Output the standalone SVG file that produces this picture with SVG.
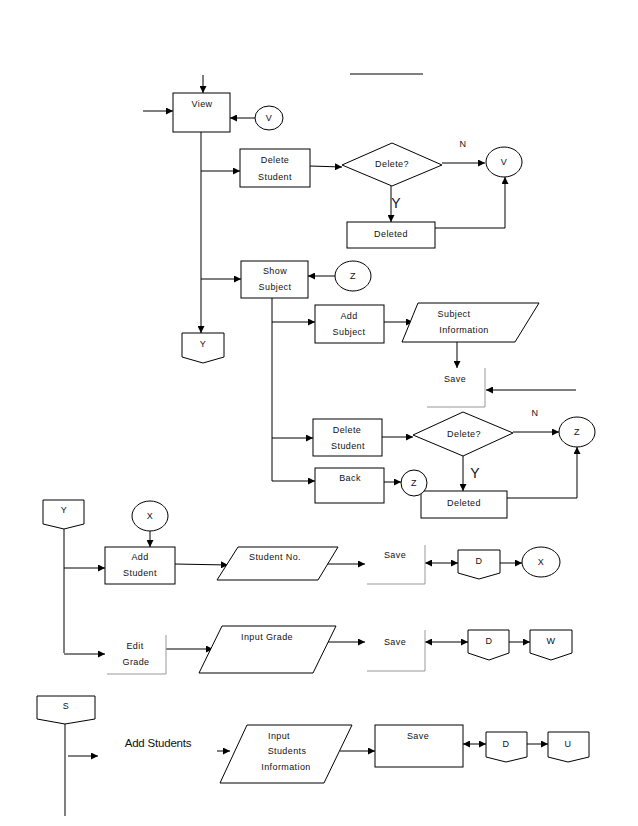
<svg xmlns="http://www.w3.org/2000/svg" width="638" height="826" viewBox="0 0 638 826">
<defs>
<marker id="ah" viewBox="0 0 10 10" refX="10" refY="5" markerWidth="7" markerHeight="7" markerUnits="userSpaceOnUse" orient="auto-start-reverse">
<path d="M0,0 L10,5 L0,10 z" fill="#000"/>
</marker>
<style>
.b{fill:#fff;stroke:#000;stroke-width:1}
.o{fill:none;stroke:#999;stroke-width:1}
.l{fill:none;stroke:#000;stroke-width:1}
.a{fill:none;stroke:#000;stroke-width:1;marker-end:url(#ah)}
.d{fill:none;stroke:#000;stroke-width:1;marker-end:url(#ah);marker-start:url(#ah)}
text{font-family:"Liberation Sans",Arial,sans-serif;font-size:9px;letter-spacing:0.4px;fill:#111;text-anchor:middle;dominant-baseline:middle}
.big{font-size:14px;letter-spacing:0}
.m{font-size:11.5px;letter-spacing:-0.2px}
</style>
</defs>
<rect width="638" height="826" fill="#fff"/>
<line x1="350" y1="74" x2="423" y2="74" class="l"/>

<g id="connectors">
<path d="M203,75 V93" class="a"/>
<path d="M143,111 H173" class="a"/>
<path d="M255,118 H230" class="a"/>
<path d="M201,132 V333" class="a"/>
<path d="M201,171 H240" class="a"/>
<path d="M310,166 L342,167" class="a"/>
<path d="M442,163 H485" class="a"/>
<path d="M391,186 V222" class="a"/>
<path d="M434,228 H505 V177" class="a"/>
<path d="M201,279 H241" class="a"/>
<path d="M335,276 H308" class="a"/>
<path d="M272,298 V481 H315" class="a"/>
<path d="M272,322 H315" class="a"/>
<path d="M384,322 H413" class="a"/>
<path d="M457,342 V368" class="a"/>
<path d="M576,390 H486" class="a"/>
<path d="M272,438 H313" class="a"/>
<path d="M382,437 H413" class="a"/>
<path d="M513,432 H559" class="a"/>
<path d="M463,456 V491" class="a"/>
<path d="M507,498 H577 V447" class="a"/>
<path d="M384,482 H401" class="a"/>
<path d="M64,529 V653" class="l"/>
<path d="M64,568 H105" class="a"/>
<path d="M150,531 V547" class="a"/>
<path d="M175,564 L228,565" class="a"/>
<path d="M322,564 H365" class="a"/>
<path d="M425,563 H458" class="d"/>
<path d="M500,563 H522" class="a"/>
<path d="M64,654 H105" class="a"/>
<path d="M166,649 H213" class="a"/>
<path d="M326,642 H365" class="a"/>
<path d="M425,642 H468" class="d"/>
<path d="M509,642 H530" class="a"/>
<path d="M65,724 V816" class="l"/>
<path d="M68,756 H98" class="a"/>
<path d="M217,751 H230" class="a"/>
<path d="M340,751 H375" class="a"/>
<path d="M463,744 H486" class="d"/>
<path d="M527,744 H548" class="a"/>
</g>

<g id="view"><rect x="173" y="93" width="57" height="39" class="b"/><text x="202" y="105">View</text></g>
<g id="v1"><ellipse cx="269" cy="118" rx="14" ry="12" class="b"/><text x="269" y="119">V</text></g>
<g id="delete-student-1"><rect x="240" y="149" width="70" height="38" class="b"/><text x="275" y="161">Delete</text><text x="275" y="178">Student</text></g>
<g id="delete-q-1"><polygon points="342,165 392,143 442,165 392,186" class="b"/><text x="392" y="165">Delete?</text></g>
<g id="v2"><ellipse cx="504" cy="162" rx="18" ry="15" class="b"/><text x="504" y="163">V</text></g>
<text x="463" y="145">N</text>
<text x="396" y="204" class="big">Y</text>
<g id="deleted-1"><rect x="347" y="222" width="88" height="26" class="b"/><text x="391" y="235">Deleted</text></g>
<g id="show-subject"><rect x="241" y="261" width="67" height="37" class="b"/><text x="275" y="272">Show</text><text x="275" y="288">Subject</text></g>
<g id="z1"><ellipse cx="353" cy="276" rx="18" ry="15" class="b"/><text x="353" y="277">Z</text></g>
<g id="y-off-1"><polygon points="182,333 224,333 224,357 203,363 182,357" class="b"/><text x="203" y="345">Y</text></g>
<g id="add-subject"><rect x="315" y="305" width="69" height="38" class="b"/><text x="349" y="317">Add</text><text x="349" y="333">Subject</text></g>
<g id="subject-info"><polygon points="418,303 539,303 515,342 402,342" class="b"/><text x="454" y="315">Subject</text><text x="464" y="331">Information</text></g>
<g id="save-1"><path d="M485,368 V407 H427" class="o"/><text x="455" y="380">Save</text></g>
<g id="delete-student-2"><rect x="313" y="419" width="69" height="37" class="b"/><text x="347" y="431">Delete</text><text x="348" y="447">Student</text></g>
<g id="delete-q-2"><polygon points="413,435 463,412 513,433 463,456" class="b"/><text x="464" y="435">Delete?</text></g>
<g id="z2"><ellipse cx="577" cy="432" rx="18" ry="15" class="b"/><text x="577" y="433">Z</text></g>
<text x="535" y="414">N</text>
<text x="475" y="474" class="big">Y</text>
<g id="deleted-2"><rect x="421" y="491" width="86" height="27" class="b"/><text x="464" y="504">Deleted</text></g>
<g id="back"><rect x="315" y="468" width="69" height="35" class="b"/><text x="350" y="479">Back</text></g>
<g id="z3"><ellipse cx="414" cy="483" rx="13" ry="13" class="b"/><text x="414" y="484">Z</text></g>

<g id="y-off-2"><polygon points="43,500 84,500 84,524 64,529 43,524" class="b"/><text x="64" y="511">Y</text></g>
<g id="x1"><ellipse cx="150" cy="516" rx="18" ry="15" class="b"/><text x="150" y="517">X</text></g>
<g id="add-student"><rect x="105" y="547" width="70" height="37" class="b"/><text x="140" y="558">Add</text><text x="140" y="574">Student</text></g>
<g id="student-no"><polygon points="238,547 338,547 318,580 217,580" class="b"/><text x="275" y="558">Student No.</text></g>
<g id="save-2"><path d="M425,545 V584 H367" class="o"/><text x="395" y="556">Save</text></g>
<g id="d1"><polygon points="458,550 500,550 500,573 479,579 458,573" class="b"/><text x="479" y="562">D</text></g>
<g id="x2"><ellipse cx="541" cy="562" rx="19" ry="15" class="b"/><text x="541" y="563">X</text></g>
<g id="edit-grade"><path d="M166,635 V674 H107" class="o"/><text x="135" y="647">Edit</text><text x="136" y="663">Grade</text></g>
<g id="input-grade"><polygon points="222,626 336,626 313,673 199,673" class="b"/><text x="267" y="638">Input Grade</text></g>
<g id="save-3"><path d="M425,630 V671 H367" class="o"/><text x="395" y="643">Save</text></g>
<g id="d2"><polygon points="468,630 509,630 509,653 489,660 468,653" class="b"/><text x="489" y="642">D</text></g>
<g id="w"><polygon points="530,630 572,630 572,653 551,660 530,653" class="b"/><text x="551" y="642">W</text></g>

<g id="s-off"><polygon points="37,696 95,696 95,719 65,724 37,719" class="b"/><text x="66" y="707">S</text></g>
<text x="158" y="744" class="m">Add Students</text>
<g id="input-students"><polygon points="247,725 352,725 324,783 220,783" class="b"/><text x="279" y="737">Input</text><text x="287" y="752">Students</text><text x="286" y="768">Information</text></g>
<g id="save-4"><rect x="375" y="725" width="88" height="42" class="b"/><text x="418" y="737">Save</text></g>
<g id="d3"><polygon points="486,732 527,732 527,757 506,762 486,757" class="b"/><text x="506" y="745">D</text></g>
<g id="u"><polygon points="548,732 589,732 589,757 568,762 548,757" class="b"/><text x="568" y="745">U</text></g>
</svg>
